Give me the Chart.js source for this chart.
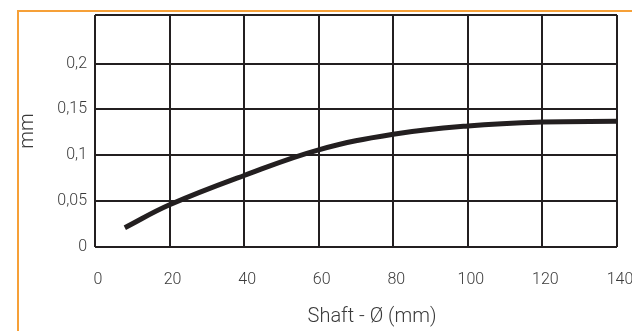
<!DOCTYPE html>
<html>
<head>
<meta charset="utf-8">
<script src="https://cdn.jsdelivr.net/npm/chart.js@4/dist/chart.umd.min.js"></script>
<style>
  html, body { margin: 0; padding: 0; background: #fff; }
  #wrap { position: relative; width: 632px; height: 331px; overflow: hidden; }
  #frame { position: absolute; left: 17px; top: 10px; right: 0; bottom: 0;
           border-top: 2px solid #f6a038; border-left: 2px solid #f6a038; }
  #chart { position: absolute; left: 0; top: 0; }
</style>
</head>
<body>
<div id="wrap">
  <div id="frame"></div>
  <canvas id="chart" width="632" height="331"></canvas>
</div>
<script>
  // values (shaft diameter in mm -> deviation in mm)
  let shaftD = [8, 20, 40, 60, 80, 100, 120, 140];
  let devMM = [0.021, 0.046, 0.078, 0.106, 0.123, 0.132, 0.1362, 0.137];

  let yTickValues = [0, 0.05, 0.1, 0.15, 0.2];
  let yTickLabels = ['0', '0,05', '0,1', '0,15', '0,2'];
  let yTop = 0.253;
  let xTitle = 'Shaft - Ø (mm)';
  let yTitle = 'mm';

  let textColor = '#3a3a3a';
  let gridColor = '#231f20';

  let points = [];
  for (let i = 0; i < shaftD.length; i++) {
    points.push({x: shaftD[i], y: devMM[i]});
  }

  // x axis title sits a bit right of the plot centre in the original
  const xTitlePlugin = {
    id: 'xTitlePlugin',
    afterDraw(chart) {
      const ctx = chart.ctx;
      const area = chart.chartArea;
      ctx.save();
      ctx.font = '300 20px Roboto';
      ctx.fillStyle = textColor;
      ctx.textAlign = 'center';
      ctx.textBaseline = 'middle';
      ctx.fillText(xTitle, (area.left + area.right) / 2 + 16, 317);
      ctx.restore();
    }
  };

  new Chart(document.getElementById('chart'), {
    type: 'line',
    data: {
      datasets: [{
        data: points,
        borderColor: gridColor,
        borderWidth: 5,
        borderCapStyle: 'butt',
        pointRadius: 0,
        tension: 0.4,
        fill: false
      }]
    },
    plugins: [xTitlePlugin],
    options: {
      responsive: false,
      animation: false,
      layout: { padding: { left: 0, right: 15, top: 15, bottom: 0 } },
      plugins: { legend: { display: false }, tooltip: { enabled: false } },
      scales: {
        x: {
          type: 'linear',
          min: 0,
          max: 140,
          border: { display: false },
          grid: { color: gridColor, lineWidth: 2, drawTicks: false },
          ticks: {
            stepSize: 20,
            padding: 23,
            labelOffset: 3,
            color: textColor,
            font: { family: 'Roboto', size: 16, weight: 300 }
          },
          afterFit: function (scale) {
            scale.height = 84;
            scale.paddingLeft = 0;
            scale.paddingRight = 0;
          }
        },
        y: {
          min: 0,
          max: yTop,
          border: { display: false },
          grid: { color: gridColor, lineWidth: 2, drawTicks: false },
          afterBuildTicks: function (scale) {
            let t = yTickValues.map(v => ({value: v}));
            t.push({value: yTop});
            scale.ticks = t;
          },
          ticks: {
            padding: 8,
            color: textColor,
            font: { family: 'Roboto', size: 16, weight: 300 },
            callback: function (value, index) {
              return index < yTickLabels.length ? yTickLabels[index] : '';
            }
          },
          title: {
            display: true,
            text: yTitle,
            color: textColor,
            font: { family: 'Roboto', size: 20, weight: 300 },
            padding: { top: 16, bottom: 0 }
          },
          afterFit: function (scale) {
            scale.width = 95;
            scale.paddingTop = 0;
            scale.paddingBottom = 0;
          }
        }
      }
    }
  });
</script>
</body>
</html>
